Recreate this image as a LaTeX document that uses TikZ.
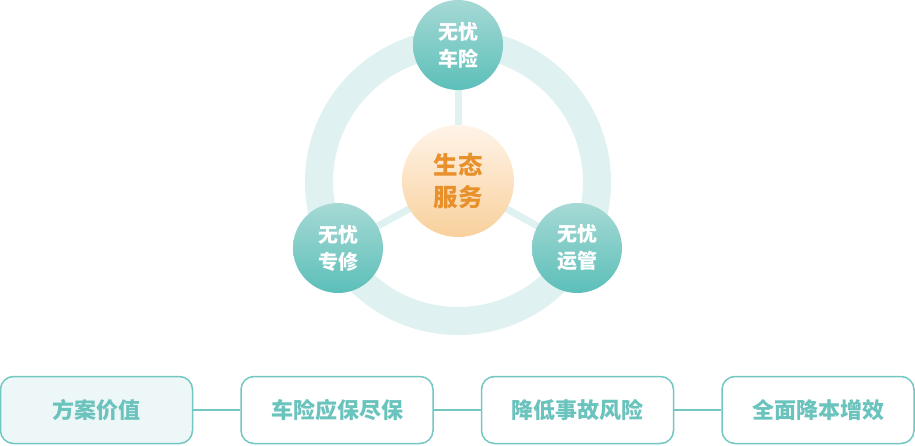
\documentclass[tikz,border=0pt]{standalone}
\usepackage{fontspec}
\newfontfamily\cjk{Noto Sans CJK SC}
\definecolor{ringc}{HTML}{DFF1F0}
\definecolor{tealtop}{HTML}{A6D9D5}
\definecolor{tealbot}{HTML}{5CBFB9}
\definecolor{ortop}{HTML}{FFF4E8}
\definecolor{orbot}{HTML}{F8D09C}
\definecolor{ortext}{HTML}{E8912C}
\definecolor{boxline}{HTML}{72C7C2}
\definecolor{boxtext}{HTML}{6AC3BD}
\definecolor{boxfill}{HTML}{EEF7F8}
\tikzset{
  sat/.style={circle, minimum size=90pt, inner sep=0pt, top color=tealtop, bottom color=tealbot, draw=none,
    text=white, font=\cjk\bfseries\fontsize{20}{27}\selectfont, align=center},
  hub/.style={circle, minimum size=112pt, inner sep=0pt, top color=ortop, bottom color=orbot, draw=none,
    text=ortext, font=\cjk\bfseries\fontsize{24.5}{32}\selectfont, align=center},
  spoke/.style={draw=ringc, line width=7pt},
  valbox/.style={rounded corners=13pt, draw=boxline, line width=1.5pt, fill=white,
    minimum width=192pt, minimum height=67pt, inner sep=0pt,
    text=boxtext, font=\cjk\bfseries\fontsize{22}{24}\selectfont},
  link/.style={draw=boxline, line width=1.5pt}
}
\begin{document}
\begin{tikzpicture}[x=1pt,y=1pt]
\useasboundingbox (0,0) rectangle (915,-446);
% ring
\draw[draw=ringc, line width=28pt] (458,-182) circle (139);
\coordinate (c) at (458,-182);
% spokes
\coordinate (st) at (458,-45);
\coordinate (sl) at (338,-248);
\coordinate (sr) at (577,-248);
\draw[spoke] (c) -- (st);
\draw[spoke] (c) -- (sl);
\draw[spoke] (c) -- (sr);
% hub
\node[hub] (hub) at (458,-181) {生态\\服务};
% satellites
\node[sat] (top) at (st) {无忧\\车险};
\node[sat] (left) at (sl) {无忧\\专修};
\node[sat] (right) at (sr) {无忧\\运管};
% bottom boxes
\node[valbox, fill=boxfill] (b1) at (96.5,-410) {方案价值};
\node[valbox] (b2) at (337,-410) {车险应保尽保};
\node[valbox] (b3) at (577.5,-410) {降低事故风险};
\node[valbox] (b4) at (818,-410) {全面降本增效};
\draw[link] (b1) -- (b2);
\draw[link] (b2) -- (b3);
\draw[link] (b3) -- (b4);
\end{tikzpicture}
\end{document}
